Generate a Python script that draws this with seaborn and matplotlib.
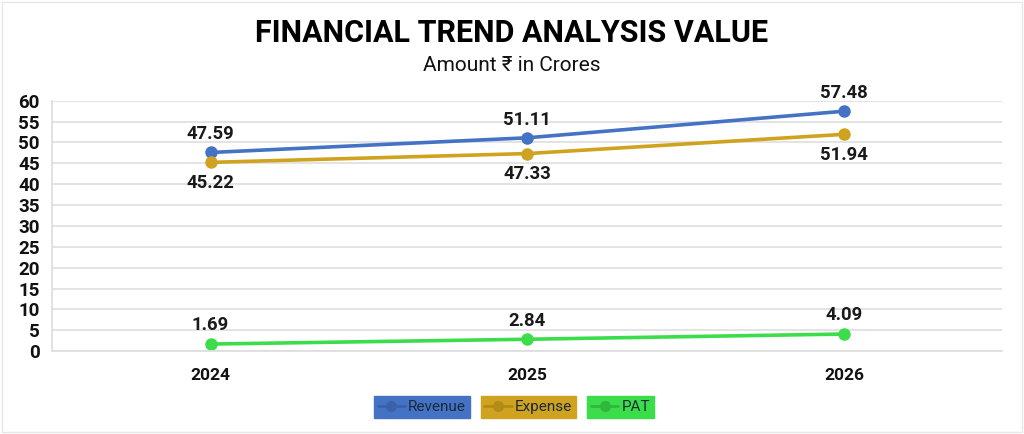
import matplotlib
matplotlib.use("Agg")
import matplotlib.pyplot as plt
import seaborn as sns
import pandas as pd
from matplotlib.lines import Line2D
from matplotlib.patches import Rectangle

# Values shown on the chart (Amount in Crores)
years = ["2024", "2025", "2026"]
revenue = [47.59, 51.11, 57.48]
expense = [45.22, 47.33, 51.94]
pat = [1.69, 2.84, 4.09]

series_names = ["Revenue", "Expense", "PAT"]
colors = {"Revenue": "#4472C4", "Expense": "#CFA31F", "PAT": "#3CDD4A"}
dark = {"Revenue": "#3A62A8", "Expense": "#B38C18", "PAT": "#30B83C"}

df = pd.DataFrame({"Year": years * 3,
                   "Series": [s for s in series_names for _ in years],
                   "Value": revenue + expense + pat})

sns.set_theme(style="white")
plt.rcParams["font.family"] = ["Roboto", "DejaVu Sans"]

fig = plt.figure(figsize=(10.24, 4.34), dpi=100)
ax = fig.add_axes([0.051, 0.191, 0.928, 0.577])

sns.lineplot(data=df, x="Year", y="Value", hue="Series", palette=colors,
             marker="o", markersize=9, markeredgewidth=0, linewidth=2.6,
             sort=False, legend=False, ax=ax)

# data labels: Revenue & PAT above, Expense below
offsets = {"Revenue": 13, "Expense": -15, "PAT": 13.5}
for name, vals in zip(series_names, [revenue, expense, pat]):
    for i, v in enumerate(vals):
        ax.annotate(f"{v:.2f}", (i, v), xytext=(0, offsets[name]),
                    textcoords="offset points", ha="center", va="center",
                    fontsize=13.3, fontweight="bold", color="#1a1a1a")

ax.set_xlim(-0.5, 2.5)
ax.set_ylim(0, 60)
ax.set_yticks(range(0, 61, 5))
ax.yaxis.grid(True, color="#dedede", linewidth=1.2)
ax.set_xlabel("")
ax.set_ylabel("")
for side in ["top", "right"]:
    ax.spines[side].set_visible(False)
ax.spines["left"].set_color("#dedede")
ax.spines["bottom"].set_color("#dedede")
ax.tick_params(axis="both", length=0, pad=8, colors="#111111")
ax.tick_params(axis="y", labelsize=13.5, pad=9)
ax.tick_params(axis="x", labelsize=12.5, pad=12)
for lab in ax.get_xticklabels() + ax.get_yticklabels():
    lab.set_fontweight("bold")

fig.text(0.5, 0.925, "FINANCIAL TREND ANALYSIS VALUE", ha="center", va="center",
         fontsize=22, fontweight="bold", color="#000000")
fig.text(0.5, 0.848, "Amount \u20b9 in Crores", ha="center", va="center",
         fontsize=15, color="#111111")

# legend entries with coloured boxes
legend_x = [0.412, 0.516, 0.606]
for name, x in zip(series_names, legend_x):
    h = Line2D([], [], color=dark[name], marker="o", markersize=7, linewidth=2)
    leg = fig.legend([h], [name], loc="center", bbox_to_anchor=(x, 0.062),
                     frameon=True, facecolor=colors[name], edgecolor=colors[name],
                     fancybox=False, framealpha=1, fontsize=11,
                     handlelength=1.8, handletextpad=0.2, borderpad=0.25,
                     borderaxespad=0)
    leg.get_texts()[0].set_color("#1b2a3a")

fig.patches.append(Rectangle((0.002, 0.004), 0.996, 0.992, transform=fig.transFigure,
                             fill=False, edgecolor="#e6e6e6", linewidth=1))

fig.savefig("out.png", dpi=100)
